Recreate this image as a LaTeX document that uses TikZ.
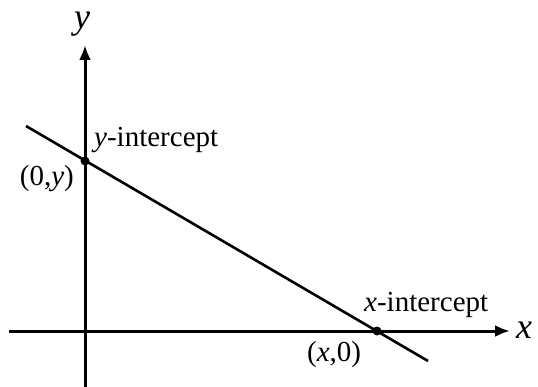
\documentclass[tikz,border=0pt]{standalone}
\usepackage{fontspec}
\setmainfont{Liberation Serif}
\usetikzlibrary{arrows.meta}
\begin{document}
\begin{tikzpicture}[x=1pt,y=-1pt,
  axis/.style={line width=3pt,-{Latex[length=15pt,width=12pt]}},
  graphline/.style={line width=2.6pt},
  dot/.style={circle,fill=black,inner sep=0pt,minimum size=9pt},
  lbl/.style={font=\fontsize{29}{31}\selectfont,inner sep=0pt},
  axlbl/.style={font=\fontsize{36}{38}\selectfont\itshape,inner sep=0pt}]
\useasboundingbox (0,0) rectangle (538,387);
\coordinate (xs) at (9,331);
\coordinate (xe) at (510,331);
\coordinate (ys) at (85,387);
\coordinate (ye) at (85,45);
\coordinate (ls) at (26,126);
\coordinate (le) at (428,361);
\draw[axis] (xs) -- (xe);
\draw[axis] (ys) -- (ye);
\draw[graphline] (ls) -- (le);
\node[dot] (yi) at (85,161) {};
\node[dot] (xi) at (377,331) {};
\node[axlbl] (ylab) at (82,24) {y};
\node[axlbl] (xlab) at (524,330) {x};
\node[lbl,anchor=base west] (yit) at (94,147) {\textit{y}-intercept};
\node[lbl,anchor=base east] (zy) at (74,186) {(0,\textit{y})};
\node[lbl,anchor=base west] (xit) at (364,312) {\textit{x}-intercept};
\node[lbl,anchor=base west] (xz) at (307,361) {(\textit{x},0)};
\end{tikzpicture}
\end{document}
